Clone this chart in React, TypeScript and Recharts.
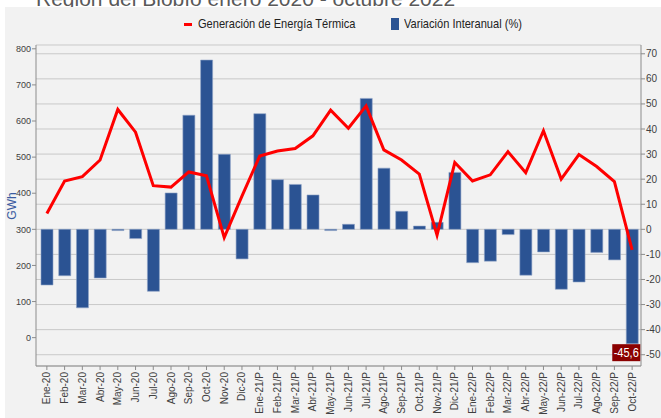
import React from 'react';
import { ComposedChart, Bar, Line, XAxis, YAxis, CartesianGrid, LabelList } from 'recharts';

const categories = [
  'Ene-20', 'Feb-20', 'Mar-20', 'Abr-20', 'May-20', 'Jun-20', 'Jul-20', 'Ago-20', 'Sep-20', 'Oct-20', 'Nov-20', 'Dic-20',
  'Ene-21/P', 'Feb-21/P', 'Mar-21/P', 'Abr-21/P', 'May-21/P', 'Jun-21/P', 'Jul-21/P', 'Ago-21/P', 'Sep-21/P', 'Oct-21/P', 'Nov-21/P', 'Dic-21/P',
  'Ene-22/P', 'Feb-22/P', 'Mar-22/P', 'Abr-22/P', 'May-22/P', 'Jun-22/P', 'Jul-22/P', 'Ago-22/P', 'Sep-22/P', 'Oct-22/P',
];

const generacion = [
  344, 434, 446, 492, 632, 569, 421, 417, 459, 448, 277, 392,
  503, 517, 524, 559, 630, 580, 642, 520, 492, 453, 284, 485,
  434, 451, 515, 457, 573, 439, 507, 474, 432, 243,
];

const variacion = [
  -22.2, -18.5, -31.3, -19.4, -0.5, -3.7, -24.7, 14.5, 45.5, 67.5, 29.9, -11.8,
  46.1, 19.8, 17.9, 13.7, -0.5, 2.0, 52.2, 24.4, 7.2, 1.3, 2.8, 22.7,
  -13.3, -12.7, -2.1, -18.3, -9.0, -23.9, -21.0, -9.2, -12.2, -45.6,
];

const leftTicks = [0, 100, 200, 300, 400, 500, 600, 700, 800];
const rightTicks = [-50, -40, -30, -20, -10, 0, 10, 20, 30, 40, 50, 60, 70];

const data = categories.map((c, i) => ({ cat: c, gen: generacion[i], vari: variacion[i] }));

const TICK_FONT = '"Liberation Sans", Arial, sans-serif';

const XTick = (props: any) => {
  const { x, y, payload } = props;
  return (
    <g transform={`translate(${x},${y})`}>
      <text transform="rotate(-90)" x={0} y={3.5} textAnchor="end" fontSize={10} fontFamily={TICK_FONT} fill="#404040">
        {payload.value}
      </text>
    </g>
  );
};

const lastIndex = variacion.length - 1;

const LastLabel = (props: any) => {
  const { x, y, width, height, index, value } = props;
  if (index !== lastIndex) return null;
  const yy = Number(y);
  const hh = Number(height);
  const bottom = Math.max(yy, yy + hh);
  const cx = Number(x) + Number(width) / 2;
  const label = String(value).replace('.', ',');
  return (
    <g>
      <rect x={cx - 20} y={bottom + 0.5} width={28} height={17} fill="#8b0000" />
      <text
        x={cx - 6}
        y={bottom + 13.5}
        textAnchor="middle"
        fontSize={13}
        fontFamily={TICK_FONT}
        fill="#ffffff"
        transform={`translate(${cx - 6},0) scale(0.85,1) translate(${-(cx - 6)},0)`}
      >
        {label}
      </text>
    </g>
  );
};

const legendText: React.CSSProperties = {
  position: 'absolute',
  top: 3,
  whiteSpace: 'nowrap',
  transform: 'scaleX(0.82)',
  transformOrigin: 'left center',
};

export default function App() {
  return (
    <div style={{ position: 'absolute', left: 0, top: 0, width: 661, height: 418, background: '#ffffff', overflow: 'hidden' }}>
      <div style={{ position: 'absolute', left: 0, top: 0, width: 661, height: 7, overflow: 'hidden' }}>
        <div style={{ position: 'absolute', left: 36, top: -12, fontSize: 21, lineHeight: '21px', fontFamily: TICK_FONT, color: '#595959', whiteSpace: 'nowrap' }}>
          Región del Biobío enero 2020 - octubre 2022
        </div>
      </div>
      <div style={{ position: 'absolute', left: 5, top: 7, width: 656, height: 411, background: '#f2f2f2' }} />
      <div style={{ position: 'absolute', left: 0, top: 13, width: 661, height: 20, fontFamily: TICK_FONT, fontSize: 13.5, color: '#222' }}>
        <div style={{ position: 'absolute', left: 184, top: 9.5, width: 8, height: 3, background: '#ff0000' }} />
        <div style={{ ...legendText, left: 198 }}>Generación de Energía Térmica</div>
        <div style={{ position: 'absolute', left: 391, top: 5, width: 8, height: 12, background: '#2b5393' }} />
        <div style={{ ...legendText, left: 404 }}>Variación Interanual (%)</div>
      </div>
      <div style={{ position: 'absolute', left: 12, top: 206, width: 0, height: 0 }}>
        <div style={{ position: 'absolute', left: 0, top: 0, transform: 'translate(-50%, -50%) rotate(-90deg)', fontFamily: TICK_FONT, fontSize: 12, lineHeight: '14px', color: '#3a5ba0', whiteSpace: 'nowrap' }}>
          GWh
        </div>
      </div>
      <div style={{ position: 'absolute', left: 0, top: 0 }}>
        <ComposedChart width={661} height={418} data={data} margin={{ top: 45, right: 0, bottom: 0, left: 0 }}>
          <CartesianGrid yAxisId="right" vertical={false} stroke="#c9c9c9" strokeWidth={1} />
          <XAxis
            dataKey="cat"
            interval={0}
            height={52}
            tick={<XTick />}
            tickSize={4}
            tickMargin={2}
            padding={{ left: 2, right: 0 }}
            axisLine={{ stroke: '#8c8c8c' }}
            tickLine={{ stroke: '#8c8c8c' }}
          />
          <YAxis
            yAxisId="left"
            orientation="left"
            width={36}
            domain={[-78.5, 810.5]}
            ticks={leftTicks}
            allowDataOverflow
            tickSize={4}
            tickMargin={1}
            tick={{ fontSize: 9, fontFamily: TICK_FONT, fill: '#404040' }}
            axisLine={{ stroke: '#8c8c8c' }}
            tickLine={{ stroke: '#8c8c8c' }}
            interval={0}
          />
          <YAxis
            yAxisId="right"
            orientation="right"
            width={20}
            domain={[-54.5, 73.5]}
            ticks={rightTicks}
            allowDataOverflow
            tickSize={4}
            tickMargin={1}
            tick={{ fontSize: 10, fontFamily: TICK_FONT, fill: '#404040' }}
            axisLine={{ stroke: '#8c8c8c' }}
            tickLine={{ stroke: '#8c8c8c' }}
            interval={0}
          />
          <Bar yAxisId="right" dataKey="vari" fill="#2b5393" stroke="#8ea3c6" strokeWidth={0.6} barSize={12} isAnimationActive={false}>
            <LabelList dataKey="vari" content={<LastLabel />} />
          </Bar>
          <Line yAxisId="left" dataKey="gen" type="linear" stroke="#ff0000" strokeWidth={3} dot={false} isAnimationActive={false} />
        </ComposedChart>
      </div>
    </div>
  );
}
